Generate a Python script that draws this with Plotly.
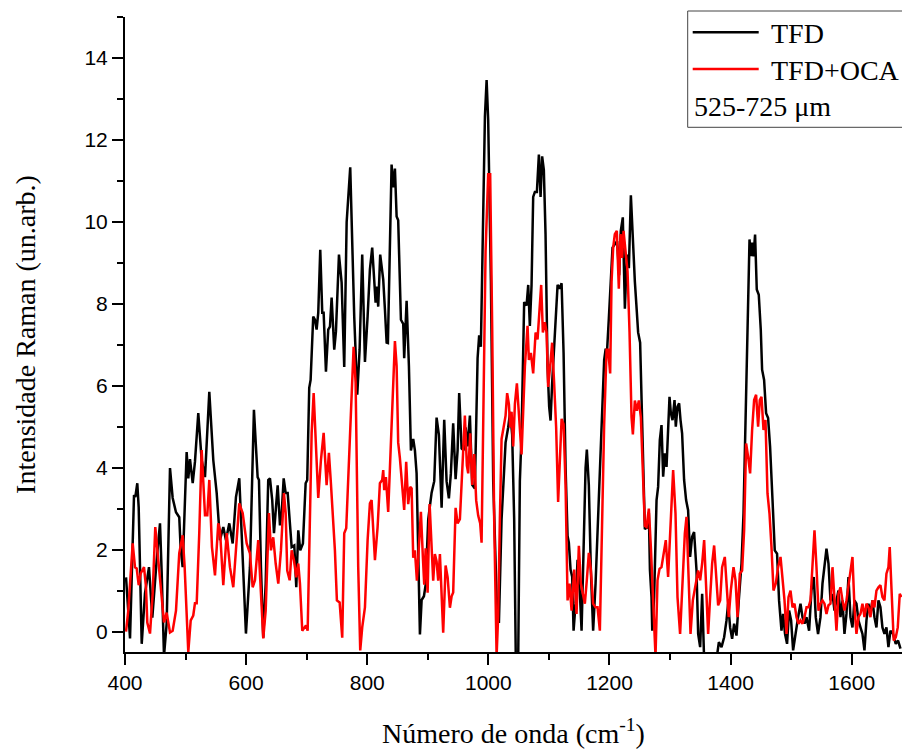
import plotly.graph_objects as go

# ---- Data ----
tfd_x = [401.7, 403.8, 408.3, 414.9, 417.0, 420.3, 422.6, 427.6, 433.0, 439.6, 445.1, 452.3, 457.8, 460.6,
         464.4, 468.8, 474.3, 478.7, 484.2, 489.6, 491.9, 495.2, 501.8, 504.5, 507.3, 511.8, 515.5, 521.0,
         526.6, 532.1, 539.2, 545.8, 551.4, 556.8, 562.3, 566.7, 572.2, 577.8, 583.2, 588.7, 592.6, 599.7,
         606.3, 612.9, 619.0, 621.2, 624.5, 628.3, 632.3, 636.5, 639.4, 643.1, 646.0, 648.8, 652.1, 655.9,
         658.7, 662.0, 665.3, 668.6, 671.9, 675.2, 679.5, 682.8, 686.1, 689.4, 693.8, 698.3, 700.9, 704.2,
         706.5, 710.8, 713.6, 716.4, 719.1, 722.4, 725.7, 728.0, 731.8, 735.6, 738.4, 741.2, 745.5, 748.3,
         753.3, 757.7, 762.0, 766.0, 771.9, 775.2, 778.5, 783.5, 787.4, 791.7, 796.2, 800.6, 804.4, 808.2,
         811.5, 813.8, 816.0, 818.1, 821.4, 826.4, 829.2, 832.0, 834.1, 837.4, 840.2, 842.9, 845.7, 848.5,
         851.1, 855.6, 859.4, 861.0, 865.0, 868.8, 872.1, 875.9, 878.7, 881.5, 884.2, 887.0, 889.8, 893.6,
         896.4, 900.7, 906.3, 910.6, 914.5, 918.3, 922.8, 927.1, 931.0, 934.8, 938.1, 941.9, 945.9, 949.2,
         951.8, 955.8, 959.1, 962.4, 965.7, 969.5, 973.3, 977.7, 982.2, 984.8, 987.6, 991.4, 994.3, 997.1,
         999.7, 1004.2, 1008.0, 1013.6, 1017.4, 1021.8, 1025.6, 1028.4, 1032.7, 1036.0, 1039.3, 1042.6, 1045.4,
         1049.2, 1052.0, 1054.8, 1059.1, 1063.1, 1065.8, 1068.5, 1071.3, 1074.0, 1076.8, 1080.1, 1083.4,
         1086.2, 1088.8, 1091.6, 1094.4, 1097.7, 1100.4, 1102.7, 1105.3, 1108.6, 1111.9, 1114.3, 1117.5,
         1120.9, 1124.2, 1127.5, 1130.8, 1132.9, 1135.7, 1138.4, 1140.7, 1144.0, 1147.3, 1151.1, 1153.9,
         1157.2, 1160.5, 1162.6, 1165.9, 1169.2, 1173.0, 1177.0, 1180.3, 1184.1, 1187.9, 1191.2, 1193.5,
         1196.1, 1198.9, 1202.2, 1205.0, 1208.8, 1212.6, 1215.9, 1218.7, 1222.0, 1225.4, 1228.7, 1232.0,
         1235.3, 1238.6, 1241.9, 1245.2, 1247.3, 1250.6, 1253.0, 1255.6, 1258.4, 1262.8, 1265.0, 1266.8,
         1269.4, 1270.6, 1273.7, 1277.7, 1280.3, 1283.1, 1285.9, 1288.6, 1291.4, 1294.2, 1296.8, 1299.1,
         1301.3, 1304.1, 1307.4, 1309.5, 1312.3, 1315.0, 1317.3, 1319.9, 1323.2, 1326.5, 1329.8, 1333.1,
         1336.4, 1339.7, 1343.7, 1346.4, 1349.7, 1353.0, 1356.3, 1365.7, 1375.6, 1380.6, 1385.0, 1389.3,
         1393.2, 1395.9, 1399.2, 1402.5, 1405.8, 1409.7, 1413.5, 1418.0, 1421.3, 1424.6, 1427.9, 1431.2,
         1433.3, 1435.5, 1437.8, 1440.4, 1443.2, 1446.5, 1449.8, 1452.0, 1455.3, 1458.6, 1461.9, 1465.2,
         1469.2, 1472.9, 1476.7, 1480.0, 1484.0, 1486.6, 1489.9, 1493.2, 1496.6, 1499.9, 1503.2, 1507.6,
         1511.4, 1515.4, 1518.7, 1522.0, 1525.3, 1529.6, 1533.5, 1537.3, 1540.6, 1544.4, 1548.4, 1551.7,
         1555.0, 1558.3, 1561.6, 1564.9, 1568.2, 1571.5, 1574.8, 1578.1, 1581.4, 1584.7, 1588.0, 1591.3,
         1594.6, 1597.9, 1601.2, 1604.5, 1607.8, 1611.1, 1614.4, 1617.7, 1621.0, 1624.3, 1627.6, 1630.9,
         1634.2, 1637.5, 1640.8, 1644.1, 1647.4, 1650.7, 1654.0, 1657.3, 1660.6, 1663.9, 1668.2, 1672.7,
         1676.5, 1680.5]
tfd_y = [1.32, 0.76, -0.17, 3.33, 3.28, 3.62, 3.03, -0.30, 0.93, 1.57, 0.34, 1.74, 2.64, 1.42,
         -0.60, 0.20, 3.99, 3.26, 2.91, 2.79, 2.03, 1.57, 4.38, 3.74, 4.21, 3.62, 4.14, 5.33,
         4.18, 3.77, 5.85, 4.18, 3.38, 2.23, 2.55, 2.23, 2.64, 2.15, 3.28, 3.74, 2.40, -0.05,
         1.57, 5.41, 3.77, 3.70, 1.57, -0.15, 1.17, 3.70, 3.74, 3.21, 2.40, 2.89, 3.57, 2.59,
         2.89, 3.74, 3.38, 3.38, 2.72, 2.06, 2.10, 1.08, 2.47, 1.98, 2.15, 3.62, 3.70, 5.95,
         6.14, 7.69, 7.61, 7.37, 7.78, 9.32, 7.78, 7.78, 6.34, 7.37, 7.44, 8.15, 6.88, 7.32,
         9.20, 8.52, 6.46, 9.99, 11.33, 9.32, 7.69, 5.78, 6.88, 9.20, 6.58, 7.69, 8.84, 9.37,
         8.52, 8.03, 8.42, 7.93, 9.20, 8.59, 7.86, 7.05, 7.04, 9.85, 11.40, 10.84, 11.30, 10.13,
         10.04, 7.61, 7.51, 6.67, 8.07, 6.48, 4.42, 4.70, 4.42, 3.86, 1.80, -0.07, 0.77, 0.86,
         1.14, 2.74, 3.39, 3.67, 5.22, 4.80, 3.02, 5.17, 3.67, 3.25, 3.86, 5.08, 3.72, 4.42,
         5.82, 4.47, 4.42, 4.98, 4.52, 5.27, 3.58, 3.49, 6.67, 7.23, 6.95, 10.23, 12.57, 13.46,
         12.48, 8.54, 3.67, 0.86, 0.21, 2.74, 4.05, 4.61, 4.98, 5.36, 4.80, 2.74, -0.80,
         -0.80, 3.67, 4.81, 8.04, 7.96, 8.46, 7.46, 8.46, 10.61, 10.73, 10.73, 11.64,
         10.61, 11.60, 11.27, 9.70, 6.47, 5.48, 5.15, 6.06, 6.97, 7.96, 8.46, 8.37,
         8.50, 6.80, 3.99, 2.33, 2.17, 1.51, 1.34, 0.02, 0.68, 1.75, 0.93, 0.02,
         2.33, 3.99, 4.44, 3.57, 1.51, 0.02, 1.17, 2.50, 3.99, 5.64, 6.63, 6.88,
         6.88, 7.63, 8.54, 9.37, 9.45, 9.53, 8.70, 9.78, 10.11, 7.88, 9.20, 8.87,
         10.65, 9.53, 8.54, 7.79, 7.30, 7.05, 5.81, 3.99, 2.50, 2.55, 2.90, 1.50,
         0.84, 0.02, 0.84, 3.21, 3.53, 4.67, 5.04, 3.78, 4.35, 4.02, 5.16, 5.73,
         5.33, 5.16, 5.65, 5.00, 5.49, 5.57, 5.16, 4.84, 3.70, 3.21, 2.96, 1.82,
         2.31, 2.43, 1.49, -0.06, -0.38, 0.92, -0.70, -0.80, -0.80, -0.26, -0.38, -0.14,
         0.27, 0.68, 0.10, -0.18, 0.19, -0.10, 0.76, 1.66, 2.88, 5.33, 6.96, 9.57,
         9.16, 9.49, 9.16, 9.69, 8.35, 8.22, 7.37, 6.39, 6.14, 5.33, 5.21, 4.50,
         3.21, 1.98, 1.90, 0.76, 0.02, 0.43, -0.06, -0.30, 0.51, 0.27, -0.46, 0.02,
         0.35, 0.68, 0.35, 0.19, 0.35, 0.02, 1.00, 1.33, 0.35, -0.06, 0.35, 1.17,
         1.57, 2.02, 1.66, 0.76, 0.92, 0.51, 0.76, 1.00, 0.35, 0.76, -0.06, 0.43,
         1.33, 0.35, 0.10, 0.76, 0.68, 0.27, 0.10, -0.06, -0.46, 0.27, 0.68, 0.43,
         0.76, 0.35, 0.10, 0.76, 0.59, 0.10, -0.06, 0.10, -0.38, 0.02, -0.06, -0.30,
         -0.22, -0.42]

oca_x = [401.7, 405.4, 412.7, 416.5, 419.3, 422.6, 425.9, 431.4, 434.7, 436.8, 441.3, 445.7, 450.0, 454.0,
         459.4, 464.4, 468.8, 474.3, 478.7, 484.2, 489.6, 495.2, 498.5, 504.5, 508.5, 512.7, 515.5, 518.4,
         522.6, 526.6, 532.1, 535.9, 539.2, 543.6, 548.6, 554.0, 556.8, 562.3, 567.9, 573.3, 578.8, 584.4,
         588.7, 594.3, 600.9, 606.3, 610.8, 614.6, 620.0, 624.5, 628.3, 632.3, 637.7, 641.0, 644.8, 648.8,
         653.1, 657.5, 662.5, 665.3, 667.9, 671.9, 675.2, 679.0, 682.8, 686.1, 688.9, 692.7, 696.0, 698.8,
         701.6, 705.4, 708.2, 711.5, 714.8, 719.1, 723.5, 728.0, 732.9, 736.7, 740.0, 743.8, 746.6, 749.9,
         754.4, 758.7, 762.0, 765.3, 769.8, 774.2, 777.5, 780.8, 785.1, 788.4, 791.7, 796.2, 800.6, 804.4,
         807.2, 812.7, 817.1, 820.9, 824.7, 826.4, 828.0, 830.8, 834.6, 839.1, 842.9, 845.7, 848.5, 851.1,
         853.9, 857.7, 861.0, 864.3, 867.6, 870.9, 873.3, 875.9, 878.7, 882.0, 885.3, 888.6, 891.9, 894.1,
         896.4, 899.7, 903.0, 906.3, 908.9, 911.7, 914.5, 917.2, 920.0, 925.4, 929.4, 932.7, 936.5, 939.3,
         941.9, 945.9, 949.2, 953.0, 956.8, 961.2, 964.5, 966.7, 970.0, 973.3, 976.6, 979.9, 983.2, 986.5,
         988.8, 992.1, 995.4, 999.7, 1003.0, 1006.3, 1009.6, 1013.6, 1016.2, 1019.0, 1021.8, 1025.1, 1028.4,
         1031.0, 1033.9, 1036.0, 1038.3, 1041.0, 1043.8, 1047.1, 1050.4, 1052.0, 1054.8, 1060.3, 1064.7,
         1066.9, 1070.2, 1074.0, 1078.0, 1081.2, 1084.5, 1087.2, 1090.0, 1093.3, 1096.1, 1098.7, 1102.0,
         1105.3, 1108.6, 1111.9, 1115.2, 1117.5, 1120.9, 1124.2, 1127.5, 1130.8, 1134.1, 1137.4, 1141.7,
         1145.6, 1149.4, 1152.7, 1156.0, 1159.3, 1162.6, 1165.9, 1169.2, 1173.0, 1177.0, 1180.3, 1184.1,
         1187.9, 1191.2, 1195.2, 1197.8, 1201.1, 1203.4, 1206.1, 1208.8, 1212.1, 1215.4, 1218.3, 1220.9,
         1223.2, 1226.5, 1229.8, 1233.1, 1236.4, 1238.6, 1241.9, 1245.2, 1248.5, 1251.8, 1255.1, 1258.4,
         1261.2, 1265.0, 1268.3, 1272.1, 1276.0, 1279.3, 1282.6, 1285.9, 1289.2, 1293.0, 1296.8, 1301.3,
         1305.1, 1309.0, 1312.3, 1316.6, 1321.1, 1324.4, 1327.2, 1329.8, 1333.8, 1337.6, 1340.9, 1344.2,
         1346.4, 1349.7, 1353.0, 1356.3, 1359.6, 1362.9, 1366.2, 1369.5, 1372.8, 1376.1, 1379.4, 1382.7,
         1386.0, 1390.4, 1393.7, 1396.9, 1400.3, 1404.8, 1408.1, 1411.4, 1415.2, 1419.0, 1422.3, 1425.6,
         1428.9, 1432.2, 1435.5, 1438.8, 1442.1, 1445.4, 1448.2, 1451.0, 1454.3, 1457.6, 1460.9, 1464.2,
         1467.5, 1470.8, 1474.6, 1478.4, 1482.4, 1485.7, 1489.0, 1492.3, 1495.6, 1498.9, 1502.2, 1505.5,
         1508.8, 1512.1, 1515.4, 1518.7, 1522.0, 1525.3, 1528.6, 1531.9, 1535.2, 1538.5, 1541.8, 1545.1,
         1548.4, 1551.7, 1555.0, 1558.3, 1561.6, 1564.9, 1568.2, 1571.5, 1574.8, 1578.1, 1581.4, 1584.7,
         1588.0, 1591.3, 1594.6, 1597.9, 1601.2, 1604.5, 1607.8, 1611.1, 1614.4, 1617.7, 1621.0, 1624.3,
         1627.6, 1630.9, 1634.2, 1637.5, 1640.8, 1644.1, 1647.4, 1650.7, 1654.0, 1657.3, 1660.6, 1662.7,
         1666.0, 1669.3, 1672.7, 1676.0, 1679.3, 1682.1]
oca_y = [0.00, 0.51, 2.15, 1.57, 1.54, 1.13, 1.42, 1.57, 1.08, 0.22, -0.05, 0.93, 2.55, 1.91,
         1.17, 0.22, 0.46, -0.02, 0.02, 0.51, 1.91, 2.35, 1.57, -0.50, 0.27, 0.39, 0.69, 0.69,
         2.40, 4.43, 2.84, 2.84, 3.70, 2.06, 1.37, 2.64, 2.47, 1.13, 2.40, 1.57, 1.08, 2.23,
         3.13, 2.89, 2.15, 1.91, 1.08, 1.25, 2.23, 0.93, -0.17, 0.51, 2.89, 1.98, 2.30, 1.66,
         1.17, 1.98, 3.38, 2.89, 1.49, 1.25, 1.98, 1.74, 1.32, 1.66, 1.17, 0.02, 0.10, 0.15,
         0.02, 3.21, 4.85, 5.82, 4.67, 3.26, 4.18, 4.85, 3.57, 4.36, 3.62, 2.79, 1.98, 0.76,
         0.71, -0.15, 2.40, 2.52, 4.01, 5.82, 6.95, 6.07, 1.57, -0.46, 0.10, 0.59, 2.23, 3.13,
         3.21, 1.74, 2.55, 3.62, 3.70, 3.94, 3.45, 3.77, 2.92, 4.61, 6.30, 7.09, 6.48, 4.61,
         4.23, 3.58, 2.97, 4.14, 3.11, 3.53, 3.49, 1.80, 1.98, 1.24, 2.27, 2.92, 1.80, 1.14,
         2.03, 0.95, 3.11, 1.89, 1.24, 1.89, 1.71, 1.24, 1.89, -0.03, 1.61, 1.33, 0.58, 0.86,
         0.95, 3.02, 2.64, 2.74, 3.86, 5.27, 4.05, 3.86, 4.84, 3.58, 4.33, 3.20, 2.83, 2.64,
         2.17, 5.55, 9.29, 11.16, 11.16, 7.42, 2.74, -0.60, 0.39, 2.74, 4.70, 4.98, 5.27,
         5.82, 5.55, 4.98, 5.36, 4.52, 5.55, 6.06, 5.36, 4.81, 4.32, 6.47, 7.46,
         6.63, 6.80, 6.30, 7.30, 7.13, 7.92, 8.46, 7.30, 7.55, 7.30, 5.97, 6.47,
         7.05, 6.06, 4.98, 3.16, 3.99, 5.19, 5.06, 3.57, 0.76, 1.17, 0.51, 1.51,
         0.43, 2.09, 1.17, 0.93, 0.68, 1.26, 1.92, 1.51, 0.68, 0.59, 0.59, 0.02,
         2.75, 5.06, 6.88, 6.88, 6.30, 8.54, 9.37, 9.70, 9.78, 8.37, 9.70, 9.12,
         9.78, 9.28, 8.79, 7.30, 5.23, 4.81, 5.64, 5.39, 5.64, 5.23, 3.99, 2.58,
         2.55, 3.00, 2.06, 0.59, -0.60, 1.25, 1.53, 1.57, 1.90, 2.23, 1.33, 2.88,
         3.94, 2.88, 0.84, -0.06, 1.25, 2.39, 2.80, 1.66, -0.06, 0.76, 1.00, 1.25,
         1.49, 1.25, 1.66, 2.23, 1.00, -0.06, 0.84, 1.66, 2.10, 1.25, 0.64, 0.76,
         1.57, 1.82, 1.08, 0.35, 1.00, 1.57, 1.25, 0.35, 1.41, 1.49, 2.47, 4.59,
         4.27, 3.86, 4.92, 5.65, 5.78, 5.00, 5.65, 5.73, 4.92, 5.16, 3.37, 2.88,
         2.06, 1.00, 1.17, 1.57, 1.82, 1.33, 0.76, -0.06, 0.84, 1.00, 0.59, 0.68,
         0.35, 0.19, 0.27, 0.19, 0.35, 0.59, 0.59, 0.76, 1.74, 2.47, 1.57, 0.51,
         0.68, 0.76, 0.68, 0.43, 0.64, 0.68, 1.57, 0.76, 0.02, 0.92, 1.08, 0.76,
         0.51, 0.76, 1.08, 1.49, 1.82, 0.59, -0.06, 0.35, 0.43, 0.68, 0.35, 0.68,
         0.59, 0.35, 0.76, 0.59, 1.00, 1.08, 1.13, 0.84, 0.76, 1.41, 1.57, 2.06,
         0.76, -0.22, -0.14, 0.10, 0.92, 0.84]

series_names = ["TFD", "TFD+OCA"]
series_colors = ["#000000", "#ff0000"]
legend_note = "525-725 μm"
x_title = "Número de onda (cm<sup>-1</sup>)"
y_title = "Intensidade Raman (un.arb.)"

SERIF = "Liberation Serif, Times New Roman, serif"
SANS = "Liberation Sans, Arial, sans-serif"

fig = go.Figure()
for xs, ys, name, col in [(tfd_x, tfd_y, series_names[0], series_colors[0]),
                          (oca_x, oca_y, series_names[1], series_colors[1])]:
    fig.add_trace(go.Scatter(x=xs, y=ys, mode="lines", name=name,
                             line=dict(color=col, width=2.5), showlegend=False))

W, H = 902, 749
ml, mr, mt, mb = 125, 0, 17, 97
pw, ph = W - ml - mr, H - mt - mb


def px_x(px):
    return (px - ml) / pw


def px_y(py):
    return (H - mb - py) / ph


axis_common = dict(
    showline=True, linecolor="black", linewidth=2,
    ticks="outside", ticklen=11, tickwidth=2, tickcolor="black",
    showgrid=False, zeroline=False, mirror=False,
    tickfont=dict(family=SANS, size=21, color="black"),
    title_font=dict(family=SERIF, size=28, color="black"),
)

fig.update_layout(
    width=W, height=H,
    margin=dict(l=ml, r=mr, t=mt, b=mb, autoexpand=False),
    paper_bgcolor="white", plot_bgcolor="white",
    template="none",
    showlegend=False,
    xaxis=dict(range=[400, 1683], tick0=400, dtick=200,
               minor=dict(dtick=100, ticks="outside", ticklen=6, tickwidth=2, tickcolor="black"),
               title=dict(text=x_title, standoff=33), **axis_common),
    yaxis=dict(range=[-0.5, 15], tick0=0, dtick=2,
               minor=dict(dtick=1, ticks="outside", ticklen=6, tickwidth=2, tickcolor="black"),
               title=dict(text=y_title, standoff=41), **axis_common),
)

# Legend box (drawn manually to match the reference layout)
fig.add_shape(type="rect", xref="paper", yref="paper",
              x0=px_x(687.7), x1=px_x(903), y0=px_y(127.3), y1=px_y(11),
              line=dict(color="#444444", width=1), fillcolor="white", layer="above")
for py, col in [(32.3, series_colors[0]), (69.0, series_colors[1])]:
    fig.add_shape(type="line", xref="paper", yref="paper",
                  x0=px_x(692.7), x1=px_x(758.7), y0=px_y(py), y1=px_y(py),
                  line=dict(color=col, width=2.5), layer="above")
for txt, xl, py in [(series_names[0], 768.5, 33.5), (series_names[1], 768.5, 70.0), (legend_note, 691.5, 107.0)]:
    fig.add_annotation(text=txt, xref="paper", yref="paper", x=px_x(xl), y=px_y(py),
                       xanchor="left", yanchor="middle", showarrow=False,
                       font=dict(family=SERIF, size=28, color="black"))

fig.write_html("out.html")
